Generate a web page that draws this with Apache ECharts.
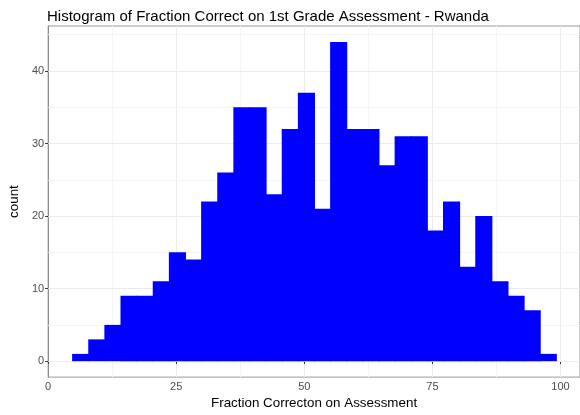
<!DOCTYPE html>
<html>
<head>
<meta charset="utf-8">
<script src="https://cdn.jsdelivr.net/npm/echarts@6/dist/echarts.min.js"></script>
<style>
  html, body { margin: 0; padding: 0; background: #fff; }
  #hist { width: 580px; height: 415px; }
</style>
</head>
<body>
<div id="hist"></div>
<script>
// histogram counts, 30 bins
const counts = [1, 3, 5, 9, 9, 11, 15, 14, 22, 26, 35, 35, 23, 32, 37,
                21, 44, 32, 32, 27, 31, 31, 18, 22, 13, 20, 11, 9, 7, 1];
const binStart = 4.68;
const binWidth = 3.147;
const yTicks = [0, 10, 20, 30, 40];
const yMinorTicks = [5, 15, 25, 35, 45];

const bins = counts.map((c, i) => [binStart + i * binWidth, binStart + (i + 1) * binWidth, c]);

const gridColor = '#ebebeb';
const minorColor = '#f4f4f4';

function hLines(vals, color) {
  return vals.map(v => ({ yAxis: v, lineStyle: { color: color, width: 1, type: 'solid' } }));
}

const chart = echarts.init(document.getElementById('hist'));
chart.setOption({
  animation: false,
  backgroundColor: '#fff',
  title: {
    text: 'Histogram of Fraction Correct on 1st Grade Assessment - Rwanda',
    left: 42,
    top: 4,
    textStyle: { fontFamily: 'Liberation Sans', fontSize: 15, fontWeight: 'normal', color: '#000' }
  },
  grid: {
    left: 44, top: 26, bottom: 32, right: -10,
    show: true, borderColor: '#9a9a9a', borderWidth: 1
  },
  xAxis: {
    type: 'value',
    min: 0,
    max: 103.8,
    interval: 25,
    name: 'Fraction Correcton on Assessment',
    nameLocation: 'middle',
    nameGap: 19,
    nameTextStyle: { fontFamily: 'Liberation Sans', fontSize: 13.4, color: '#000' },
    axisLine: { show: true, lineStyle: { color: '#333', width: 1 } },
    axisTick: { show: true, length: 3, lineStyle: { color: '#333' } },
    axisLabel: {
      margin: 4, color: '#4d4d4d', fontFamily: 'Liberation Sans', fontSize: 11,
      showMaxLabel: false
    },
    splitLine: { show: true, lineStyle: { color: gridColor } },
    minorTick: { show: false, splitNumber: 2 },
    minorSplitLine: { show: true, lineStyle: { color: minorColor } }
  },
  yAxis: {
    type: 'value',
    min: -2.2,
    max: 46.2,
    name: 'count',
    nameLocation: 'middle',
    nameGap: 24,
    nameTextStyle: { fontFamily: 'Liberation Sans', fontSize: 13.4, color: '#000' },
    axisLine: { show: true, lineStyle: { color: '#8c8c8c', width: 1 } },
    axisTick: { show: true, length: 3, customValues: yTicks, lineStyle: { color: '#333' } },
    axisLabel: {
      margin: 4, color: '#4d4d4d', fontFamily: 'Liberation Sans', fontSize: 11,
      customValues: yTicks
    },
    splitLine: { show: false }
  },
  series: [
    {
      type: 'line',
      data: [],
      z: 1,
      silent: true,
      markLine: {
        z: 1,
        silent: true,
        symbol: 'none',
        label: { show: false },
        animation: false,
        data: hLines(yMinorTicks, minorColor).concat(hLines(yTicks, gridColor))
      }
    },
    {
      type: 'custom',
      z: 3,
      data: bins,
      encode: { x: [0, 1], y: 2 },
      renderItem: function (params, api) {
        const p0 = api.coord([api.value(0), api.value(2)]);
        const p1 = api.coord([api.value(1), 0]);
        return {
          type: 'rect',
          shape: { x: p0[0], y: p0[1], width: p1[0] - p0[0] + 1, height: p1[1] - p0[1] },
          style: { fill: '#0000ff' }
        };
      }
    }
  ]
});
</script>
</body>
</html>
